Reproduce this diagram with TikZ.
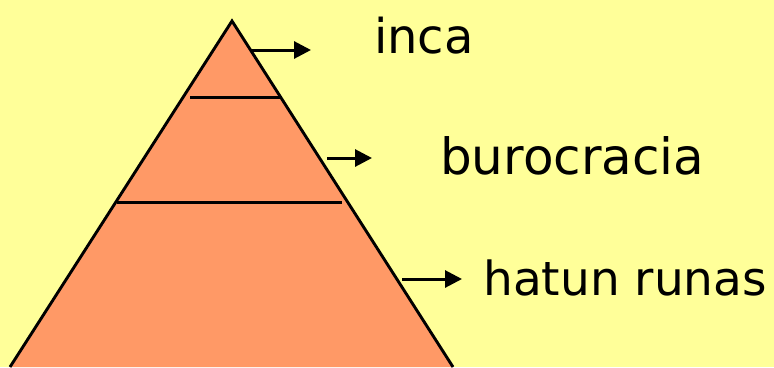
\documentclass[tikz,border=0pt]{standalone}
\usepackage{fontspec}
\setmainfont{DejaVu Sans}
\usetikzlibrary{arrows.meta}
\definecolor{bgyellow}{HTML}{FFFF99}
\definecolor{pyr}{HTML}{FF9966}
\begin{document}
\begin{tikzpicture}[x=1pt,y=-1pt,
  edge/.style={draw=black,line width=2.9pt,line join=miter},
  level/.style={draw=black,line width=3pt},
  pointer/.style={draw=black,line width=3pt,-{Triangle[length=17pt,width=17pt]}},
  label/.style={anchor=base west,inner sep=0pt,font=\fontsize{48}{50}\selectfont}]
\fill[bgyellow] (0,0) rectangle (774,367);
\useasboundingbox (0,0) rectangle (774,367);
\coordinate (apex) at (232,21);
\coordinate (bl) at (10,367);
\coordinate (br) at (453,367);
\fill[pyr] (bl) -- (apex) -- (br) -- cycle;
\draw[edge] (bl) -- (apex) -- (br);
\coordinate (l1a) at (190,97);
\coordinate (l1b) at (280,97);
\coordinate (l2a) at (117,202);
\coordinate (l2b) at (342,202);
\draw[level] (l1a) -- (l1b);
\draw[level] (l2a) -- (l2b);
\coordinate (a1s) at (251,50);
\coordinate (a1e) at (311,50);
\coordinate (a2s) at (327,158);
\coordinate (a2e) at (372,158);
\coordinate (a3s) at (402,279);
\coordinate (a3e) at (462,279);
\draw[pointer] (a1s) -- (a1e);
\draw[pointer] (a2s) -- (a2e);
\draw[pointer] (a3s) -- (a3e);
\node[label] (inca) at (374,53) {inca};
\node[label,font=\fontsize{50}{52}\selectfont] (buro) at (440,174) {burocracia};
\node[label,font=\fontsize{47}{50}\selectfont] (hatun) at (483,295) {hatun runas};
\end{tikzpicture}
\end{document}
